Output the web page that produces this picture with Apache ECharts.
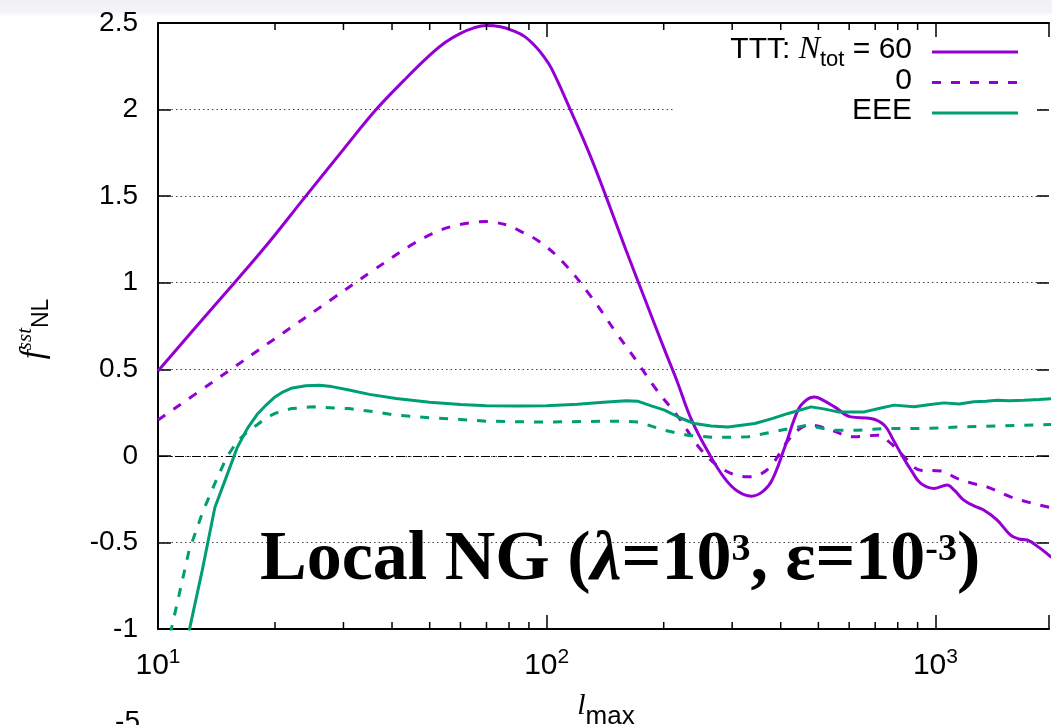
<!DOCTYPE html>
<html>
<head>
<meta charset="utf-8">
<script src="https://cdn.jsdelivr.net/npm/echarts@6/dist/echarts.min.js"></script>
<style>
  html, body { margin: 0; padding: 0; background: #fff; }
  #chart { width: 1052px; height: 725px; }
</style>
</head>
<body>
<div id="chart"></div>
<script>
// f_NL^sst as a function of l_max for each bispectrum / noise setting
const tttN60L = [10,14,18.6,24,30,36.4,43,49.8,55,60,65,70,76,82,88,94,98,103,115,128,142,160,180,200,216,236,263,287,310,336,360,380,410,443,465,489,515,550,606,683,739,780,815,870,917,993,1072,1120,1183,1260,1331,1442,1561,1640,1722,1850,1957,2000];
const tttN60F = [0.49,0.87,1.19,1.50,1.77,2.0,2.17,2.31,2.39,2.44,2.472,2.485,2.478,2.455,2.42,2.36,2.31,2.235,2.0,1.76,1.5,1.187,0.89,0.625,0.437,0.206,0.004,-0.13,-0.205,-0.233,-0.205,-0.14,0.052,0.264,0.322,0.34,0.32,0.283,0.225,0.216,0.177,0.09,0.014,-0.09,-0.159,-0.188,-0.169,-0.2,-0.256,-0.29,-0.313,-0.371,-0.458,-0.48,-0.486,-0.53,-0.573,-0.59];

const tttN0L = [10,14,20,28,36,44.7,50.8,57,65.6,70,73.1,80,84.8,95.4,110,130,150,170,192,218,250,287,330,355,379,418,450,479,539,618,710,768,832,917,1031,1137,1250,1357,1561,1750,1937,2000];
const tttN0F = [0.207,0.435,0.677,0.905,1.075,1.216,1.283,1.325,1.35,1.354,1.35,1.33,1.302,1.24,1.12,0.92,0.72,0.55,0.379,0.225,0.033,-0.083,-0.121,-0.105,-0.054,0.09,0.16,0.177,0.148,0.11,0.119,0.072,-0.006,-0.083,-0.087,-0.13,-0.16,-0.179,-0.237,-0.27,-0.294,-0.30];

const eeeN60L = [10,11,12,13,14,15,16,17,18,19,20,21,22,24,26,28,31,35,41,50,60,70,85,100,120,140,160,172,185,201,220,240,265,293,343,380,418,479,520,561,656,720,783,881,960,1052,1150,1256,1350,1442,1550,1690,1850,2000];
const eeeN60F = [-2.4,-1.7,-1.02,-0.66,-0.30,-0.12,0.05,0.16,0.24,0.295,0.34,0.37,0.39,0.405,0.408,0.40,0.38,0.355,0.331,0.31,0.297,0.29,0.288,0.29,0.298,0.31,0.318,0.315,0.29,0.264,0.22,0.187,0.172,0.167,0.187,0.215,0.245,0.283,0.27,0.254,0.254,0.275,0.293,0.283,0.295,0.306,0.30,0.312,0.315,0.321,0.318,0.321,0.326,0.331];

const eeeN0L = [10,11,12,13,14,15,16,17,18,19,20,22,25,31,36,41,50,60,70,100,140,160,172,201,230,270,330,400,469,539,631,739,950,1137,1500,2000];
const eeeN0F = [-1.35,-0.93,-0.554,-0.33,-0.16,-0.01,0.085,0.14,0.18,0.22,0.245,0.273,0.283,0.273,0.255,0.235,0.22,0.21,0.20,0.195,0.2,0.2,0.196,0.148,0.119,0.106,0.11,0.148,0.177,0.148,0.148,0.158,0.158,0.167,0.173,0.181];

// axis ranges and minor tick positions of the logarithmic l_max axis
const xRange = [10, 1960];
const yRange = [-1, 2.5];
const yStep = 0.5;
const xMinorTicks = [20,30,40,50,60,70,80,90,200,300,400,500,600,700,800,900];

// legend rows: label pieces
const legendRows = [
  { text: '{a|TTT: }{n|N}{s|tot}{a| = 60}', dash: 'solid', color: 'violet' },
  { text: '{a|0}', dash: 'dashed', color: 'violet' },
  { text: '{a|EEE}', dash: 'solid', color: 'green' }
];

const COLORS = { violet: '#9400d3', green: '#009e73' };
const SANS = '"Liberation Sans", Arial, Helvetica, sans-serif';
const SERIF = '"Liberation Serif", "Times New Roman", serif';
const DASH = [9, 10];

const zip = (xs, ys) => xs.map((x, i) => [x, ys[i]]);

const chart = echarts.init(document.getElementById('chart'), null, { renderer: 'canvas' });

function lineSeries(name, xs, ys, color, dashed) {
  return {
    name: name,
    type: 'line',
    data: zip(xs, ys),
    showSymbol: false,
    symbol: 'none',
    smooth: color === COLORS.violet ? 0.4 : false,
    clip: true,
    z: 3,
    lineStyle: { color: color, width: 3, type: dashed ? DASH : 'solid', cap: 'butt' },
    emphasis: { disabled: true }
  };
}

const axisBlack = { onZero: false, lineStyle: { color: '#000', width: 2 } };

const legendGraphics = [];
legendRows.forEach((row, i) => {
  const y = 50 + i * 30.5;
  legendGraphics.push({
    type: 'text', z: 10,
    style: {
      x: 912, y: y, text: row.text, align: 'right', verticalAlign: 'middle',
      rich: {
        a: { fontFamily: SANS, fontSize: 30, fill: '#000', color: '#000' },
        n: { fontFamily: SERIF, fontStyle: 'italic', fontSize: 32, fill: '#000', color: '#000' },
        s: { fontFamily: SANS, fontSize: 22, fill: '#000', color: '#000', padding: [20, 0, 0, 0] }
      }
    }
  });
  legendGraphics.push({
    type: 'line', z: 10,
    shape: { x1: 932, y1: y + 2, x2: 1018, y2: y + 2 },
    style: { stroke: COLORS[row.color], lineWidth: 3, lineDash: row.dash === 'dashed' ? DASH : null }
  });
});

const option = {
  animation: false,
  backgroundColor: '#fff',
  grid: { left: 158, right: 0, top: 23, bottom: 96, containLabel: false },
  xAxis: [
    {
      type: 'log', logBase: 10, min: xRange[0], max: xRange[1], position: 'bottom',
      axisLine: axisBlack,
      axisTick: { inside: true, length: 14, lineStyle: { color: '#000', width: 1.5 } },
      splitLine: { show: false },
      minorTick: { show: false },
      axisLabel: {
        margin: 18,
        formatter: function (v) {
          const e = Math.round(Math.log10(v));
          return Math.abs(Math.pow(10, e) - v) < 1e-6 * v ? '{b|10}{s|' + e + '}' : '';
        },
        rich: {
          b: { fontFamily: SANS, fontSize: 30, color: '#000' },
          s: { fontFamily: SANS, fontSize: 21, color: '#000', padding: [0, 0, 16, 0] }
        }
      }
    },
    {
      type: 'log', logBase: 10, min: xRange[0], max: xRange[1], position: 'top', z: 4,
      axisLine: axisBlack,
      axisTick: { inside: true, length: 14, lineStyle: { color: '#000', width: 1.5 } },
      axisLabel: { show: false },
      splitLine: { show: false }
    }
  ],
  yAxis: [
    {
      type: 'value', min: yRange[0], max: yRange[1], interval: yStep, position: 'left',
      axisLine: { show: true, onZero: false, lineStyle: { color: '#000', width: 2 } },
      axisTick: { show: true, inside: true, length: 13, lineStyle: { color: '#000', width: 1.5 } },
      axisLabel: { margin: 20, fontFamily: SANS, fontSize: 28, color: '#000' },
      splitLine: { show: true, lineStyle: { color: '#444', width: 1, type: [1.5, 3] } }
    },
    {
      type: 'value', min: yRange[0], max: yRange[1], interval: yStep, position: 'right', z: 4,
      axisLine: { show: false, onZero: false },
      axisTick: { show: true, inside: true, length: 12, lineStyle: { color: '#000', width: 1.5 } },
      axisLabel: { show: false },
      splitLine: { show: false }
    }
  ],
  series: [
    {
      name: 'minor ticks',
      type: 'custom',
      xAxisIndex: 0, yAxisIndex: 0,
      data: xMinorTicks.map(v => [v, yRange[0]]),
      clip: false,
      z: 4,
      silent: true,
      renderItem: function (params, api) {
        const v = api.value(0);
        const b = api.coord([v, yRange[0]]);
        const t = api.coord([v, yRange[1]]);
        const st = { stroke: '#000', lineWidth: 1.5 };
        return {
          type: 'group',
          children: [
            { type: 'line', shape: { x1: b[0], y1: b[1], x2: b[0], y2: b[1] - 7 }, style: st },
            { type: 'line', shape: { x1: t[0], y1: t[1], x2: t[0], y2: t[1] + 7 }, style: st }
          ]
        };
      }
    },
    Object.assign(lineSeries('TTT N_tot = 60', tttN60L, tttN60F, COLORS.violet, false), {
      markLine: {
        silent: true, symbol: 'none', label: { show: false },
        lineStyle: { color: '#000', width: 1, type: [9, 3, 2, 3] },
        data: [{ yAxis: 0 }],
        z: 1
      }
    }),
    lineSeries('TTT N_tot = 0', tttN0L, tttN0F, COLORS.violet, true),
    lineSeries('EEE N_tot = 60', eeeN60L, eeeN60F, COLORS.green, false),
    lineSeries('EEE N_tot = 0', eeeN0L, eeeN0F, COLORS.green, true)
  ],
  graphic: [
    {
      type: 'rect', z: 0, silent: true,
      shape: { x: 0, y: 0, width: 1052, height: 16 },
      style: {
        fill: new echarts.graphic.LinearGradient(0, 0, 0, 1, [
          { offset: 0, color: '#f1f0f4' },
          { offset: 0.75, color: '#f4f4f6' },
          { offset: 1, color: '#ffffff' }
        ])
      }
    },
    // opaque key box
    {
      type: 'rect', z: 1, silent: true,
      shape: { x: 673, y: 40, width: 366, height: 88 },
      style: { fill: '#fff' }
    },
    ...legendGraphics,
    // y-axis title f_NL^sst
    {
      type: 'text', z: 10, x: 34, y: 329, rotation: Math.PI / 2,
      style: {
        text: '{f|f}{p|sst}{q|NL}',
        align: 'center', verticalAlign: 'middle',
        rich: {
          f: { fontFamily: SERIF, fontStyle: 'italic', fontSize: 33, fill: '#000', color: '#000' },
          p: { fontFamily: SERIF, fontStyle: 'italic', fontSize: 21, fill: '#000', color: '#000', padding: [0, 0, 18, 0] },
          q: { fontFamily: SANS, fontSize: 23, fill: '#000', color: '#000', padding: [16, 0, 0, 0] }
        }
      }
    },
    // x-axis title l_max
    {
      type: 'text', z: 10, x: 606, y: 706,
      style: {
        text: '{l|l}{m|max}',
        align: 'center', verticalAlign: 'middle',
        rich: {
          l: { fontFamily: SERIF, fontStyle: 'italic', fontSize: 30, fill: '#000', color: '#000' },
          m: { fontFamily: SANS, fontSize: 26, fill: '#000', color: '#000', padding: [22, 0, 0, 0] }
        }
      }
    },
    // model annotation
    {
      type: 'text', z: 10, x: 260, y: 561,
      style: {
        text: '{m|Local NG (}{g|λ}{m|=10}{p|3}{m|, ε=10}{p|-3}{m|)}',
        align: 'left', verticalAlign: 'middle',
        rich: {
          m: { fontFamily: SERIF, fontWeight: 'bold', fontSize: 70, fill: '#000', color: '#000' },
          g: { fontFamily: SERIF, fontWeight: 'bold', fontStyle: 'italic', fontSize: 70, fill: '#000', color: '#000' },
          p: { fontFamily: SERIF, fontWeight: 'bold', fontSize: 38, fill: '#000', color: '#000', padding: [0, 0, 22, 0] }
        }
      }
    },
    // tick label of the panel below
    {
      type: 'text', z: 10, x: 140, y: 708,
      style: { text: '-5', align: 'right', verticalAlign: 'top', fontFamily: SANS, fontSize: 28, fill: '#000' }
    }
  ]
};

chart.setOption(option);
</script>
</body>
</html>
